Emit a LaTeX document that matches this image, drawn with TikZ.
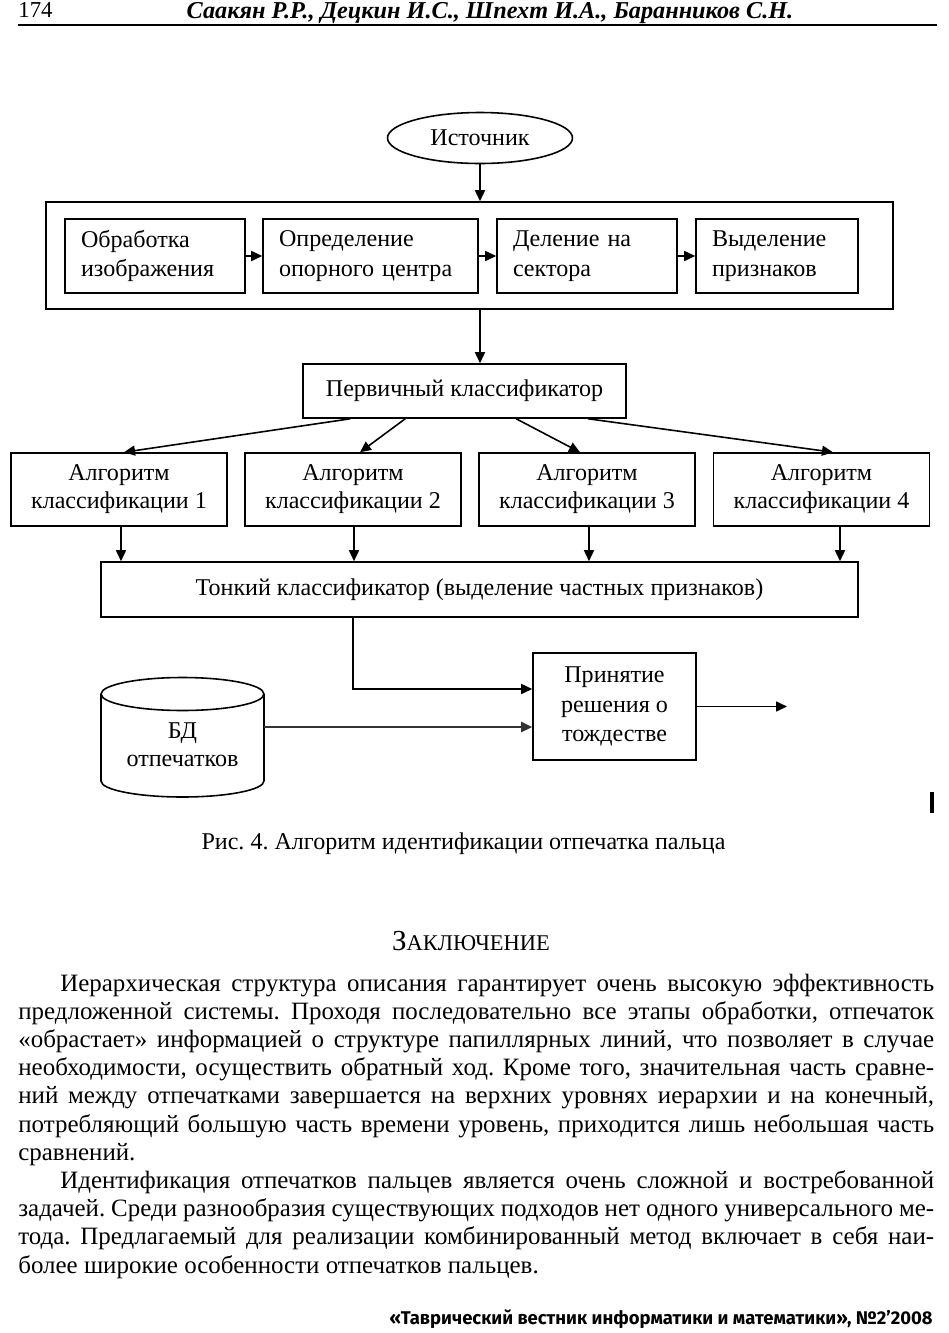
\documentclass[tikz,border=0pt]{standalone}
\usepackage{fontspec}
\setmainfont{Liberation Serif}
\newfontfamily\footfont{Fira Sans}
\usetikzlibrary{arrows.meta,shapes.geometric}
\newcommand\dg{\fontsize{13.7}{17}\selectfont}
\newcommand\dgb{\fontsize{13.7}{16}\selectfont}
\newcommand\bodyf{\fontsize{14.2}{17}\selectfont}
\newcommand\txfull[2]{\node[anchor=base west, inner sep=0] at (18,#1) {\makebox[18.32cm][s]{#2}};}
\newcommand\txind[2]{\node[anchor=base west, inner sep=0] at (60,#1) {\makebox[17.48cm][s]{#2}};}
\newcommand\txlast[2]{\node[anchor=base west, inner sep=0] at (18,#1) {#2};}
\tikzset{
  box/.style={draw, line width=0.9pt, inner sep=0pt, font=\dg},
  lbox/.style={box, align=left, inner xsep=0.32cm, minimum height=1.48cm},
  abox/.style={box, align=center, font=\dgb, minimum width=4.32cm, minimum height=1.46cm},
  arr/.style={line width=0.9pt, -{Triangle[length=0.22cm,width=0.2cm]}},
}
\frenchspacing
\begin{document}
\frenchspacing
\begin{tikzpicture}[x=0.02cm, y=-0.02cm]
\fill[white] (0,0) rectangle (948,1333);
\useasboundingbox (0,0) rectangle (948,1333);

% header
\node[anchor=base west, inner sep=0, font=\fontsize{13}{15}\selectfont] (pg) at (18,17.5) {174};
\node[anchor=base, inner sep=0, font=\fontsize{13.8}{16}\selectfont\bfseries\itshape] (auth) at (490,18) {Саакян Р.Р., Децкин И.С., Шпехт И.А., Баранников С.Н.};
\draw[line width=1.7pt] (18,25) -- (937,25);

% diagram
\node[ellipse, draw, line width=0.9pt, minimum width=3.7cm, minimum height=1.02cm, inner sep=0, font=\dg] (src) at (480,138) {Источник};
\node[draw, line width=0.9pt, minimum width=16.94cm, minimum height=2.14cm, inner sep=0] (outer) at (469.5,255.5) {};
\node[lbox, text width=2.96cm] (b1) at (155,256) {Обработка\\изображения};
\node[lbox, text width=3.66cm] (b2) at (370.5,256) {Определение\\опорного центра};
\node[lbox, text width=2.96cm] (b3) at (587,256) {Деление на\\сектора};
\node[lbox, text width=2.6cm] (b4) at (777,256) {Выделение\\признаков};
\draw[arr] (src) -- (src |- outer.north);
\draw[arr] (b1) -- (b2);
\draw[arr] (b2) -- (b3);
\draw[arr] (b3) -- (b4);

\node[box, minimum width=6.46cm, minimum height=1.08cm] (prim) at (464.5,391) {Первичный классификатор};
\draw[arr] (src |- outer.south) -- (src |- prim.north);

\node[abox] (a1) at (119,489.5) {Алгоритм\\классификации 1};
\node[abox] (a2) at (353,489.5) {Алгоритм\\классификации 2};
\node[abox] (a3) at (587,489.5) {Алгоритм\\классификации 3};
\node[abox] (a4) at (821.5,489.5) {Алгоритм\\классификации 4};
\draw[arr] ([xshift=0.96cm]prim.south west) -- ([xshift=0.1cm]a1.north);
\draw[arr] ([xshift=2.06cm]prim.south west) -- ([xshift=0.14cm]a2.north);
\draw[arr] ([xshift=4.28cm]prim.south west) -- ([xshift=-0.14cm]a3.north);
\draw[arr] ([xshift=5.72cm]prim.south west) -- ([xshift=0.23cm]a4.north);

\node[box, minimum width=15.14cm, minimum height=1.1cm] (fine) at (479.5,589.5) {Тонкий классификатор (выделение частных признаков)};
\coordinate (t1) at ([xshift=0.04cm]a1.south);
\coordinate (t2) at ([xshift=0.02cm]a2.south);
\coordinate (t3) at ([xshift=0.04cm]a3.south);
\coordinate (t4) at ([xshift=0.37cm]a4.south);
\draw[arr] (t1) -- (t1 |- fine.north);
\draw[arr] (t2) -- (t2 |- fine.north);
\draw[arr] (t3) -- (t3 |- fine.north);
\draw[arr] (t4) -- (t4 |- fine.north);

\node[box, align=center, minimum width=3.26cm, minimum height=2.14cm] (dec) at (614.5,706.5) {Принятие\\решения о\\тождестве};
\coordinate (f1) at ([xshift=5.06cm]fine.south west);
\draw[arr] (f1) |- ([yshift=0.35cm]dec.west);

% database cylinder
\draw[line width=0.9pt] (101,694) -- (101,781) arc[start angle=180, end angle=360, x radius=1.63cm, y radius=0.32cm] -- (264,694);
\draw[line width=0.9pt] (182.5,694) ellipse [x radius=1.63cm, y radius=0.33cm];
\node[font=\dgb, align=center, minimum width=3.26cm, inner sep=0] (db) at (182.5,745) {БД\\отпечатков};
\coordinate (d1) at ([yshift=0.36cm]db.east);
\draw[arr, line width=1.3pt, black!80] (d1) -- (d1 -| dec.west);

\coordinate (out) at (787,706.5);
\draw[arr] (dec) -- (out);

\fill (930,792) rectangle (934,813);

\node[anchor=base, inner sep=0, font=\dg] (cap) at (463.5,849) {Рис. 4. Алгоритм идентификации отпечатка пальца};

% text
\node[anchor=base, inner sep=0, font=\fontsize{16.5}{18}\selectfont] (sec) at (471,950) {З{\fontsize{12.8}{14}\selectfont АКЛЮЧЕНИЕ}};
\begin{scope}[font=\bodyf]
\txind{991}{Иерархическая структура описания гарантирует очень высокую эффективность}
\txfull{1019.2}{предложенной системы. Проходя последовательно все этапы обработки, отпечаток}
\txfull{1047.4}{«обрастает» информацией о структуре папиллярных линий, что позволяет в случае}
\txfull{1075.6}{необходимости, осуществить обратный ход. Кроме того, значительная часть сравне-}
\txfull{1103.8}{ний между отпечатками завершается на верхних уровнях иерархии и на конечный,}
\txfull{1132}{потребляющий большую часть времени уровень, приходится лишь небольшая часть}
\txlast{1160.2}{сравнений.}
\txind{1188.4}{Идентификация отпечатков пальцев является очень сложной и востребованной}
\txfull{1216.6}{задачей. Среди разнообразия существующих подходов нет одного универсального ме-}
\txfull{1244.8}{тода. Предлагаемый для реализации комбинированный метод включает в себя наи-}
\txlast{1273}{более широкие особенности отпечатков пальцев.}
\end{scope}

\node[anchor=base east, inner sep=0, font=\footfont\bfseries\fontsize{10.5}{13}\selectfont] (foot) at (933,1324) {«Таврический вестник информатики и математики», №2’2008};
\end{tikzpicture}
\end{document}
